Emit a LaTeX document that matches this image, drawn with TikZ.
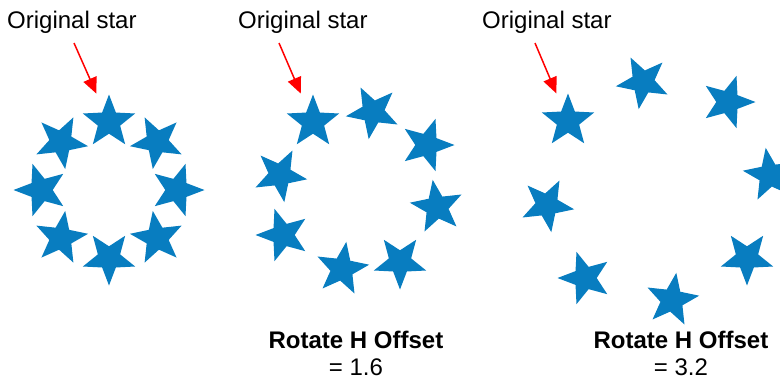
\documentclass[tikz,border=0pt]{standalone}
\usepackage{fontspec}
\setmainfont{Liberation Sans}
\usepackage{tikz}
\usetikzlibrary{shapes.geometric,arrows.meta,positioning,calc}
\definecolor{starblue}{RGB}{8,125,192}

\begin{document}
\begin{tikzpicture}[
    x=1pt, y=-1pt,
    % --- STYLES ---
    sstar/.style={
        star, star points=5, star point ratio=2.35,
        fill=starblue, draw=none,
        minimum size=55pt, inner sep=0pt
    },
    caption/.style={font=\fontsize{24}{28}\selectfont, inner sep=0pt},
    heading/.style={font=\fontsize{24}{28}\selectfont\bfseries, inner sep=0pt},
    pointer/.style={-{Triangle[length=16pt,width=14pt]}, red, line width=1.5pt,
        shorten >=31pt}
]
\clip (0,0) rectangle (780,381);

% ===== 1. LABELS =====
\node[caption, anchor=base west] (lblA) at (7,28) {Original star};
\node[caption, anchor=base west] (lblB) at (238,28) {Original star};
\node[caption, anchor=base west] (lblC) at (482,28) {Original star};

\node[heading, anchor=base] (hdB) at (356,348) {Rotate H Offset};
\node[caption, anchor=base] (valB) at (356,375) {= 1.6};
\node[heading, anchor=base] (hdC) at (681,348) {Rotate H Offset};
\node[caption, anchor=base] (valC) at (681,375) {= 3.2};

% ===== 2. RING A (no offset) =====
\node[sstar] (a0) at (109,122) {};
\node[sstar, rotate=-45] (a1) at (157.1,141.9) {};
\node[sstar, rotate=-90] (a2) at (177,190) {};
\node[sstar, rotate=-135] (a3) at (157.1,238.1) {};
\node[sstar, rotate=-180] (a4) at (109,258) {};
\node[sstar, rotate=-225] (a5) at (60.9,238.1) {};
\node[sstar, rotate=-270] (a6) at (41,190) {};
\node[sstar, rotate=-315] (a7) at (60.9,141.9) {};

% ===== 3. RING B (offset 1.6) =====
\node[sstar] (b0) at (313,122) {};
\node[sstar, rotate=-45] (b1) at (373,112) {};
\node[sstar, rotate=-90] (b2) at (427,145) {};
\node[sstar, rotate=-135] (b3) at (437,207) {};
\node[sstar, rotate=-180] (b4) at (400,262) {};
\node[sstar, rotate=-225] (b5) at (342,269) {};
\node[sstar, rotate=-270] (b6) at (283,235) {};
\node[sstar, rotate=-315] (b7) at (280,175) {};

% ===== 4. RING C (offset 3.2) =====
\node[sstar] (c0) at (568,121) {};
\node[sstar, rotate=-45] (c1) at (643,82) {};
\node[sstar, rotate=-90] (c2) at (728,102) {};
\node[sstar, rotate=-135] (c3) at (770,175) {};
\node[sstar, rotate=-180] (c4) at (747,258) {};
\node[sstar, rotate=-225] (c5) at (672,300) {};
\node[sstar, rotate=-270] (c6) at (585,278) {};
\node[sstar, rotate=-315] (c7) at (547,205) {};

% ===== 5. POINTERS =====
\coordinate (tA) at (74,43);
\coordinate (tB) at (279,43);
\coordinate (tC) at (535,43);

\draw[pointer] (tA) -- (a0.center);
\draw[pointer] (tB) -- (b0.center);
\draw[pointer, shorten >=30pt] (tC) -- (c0.center);

\end{tikzpicture}
\end{document}
